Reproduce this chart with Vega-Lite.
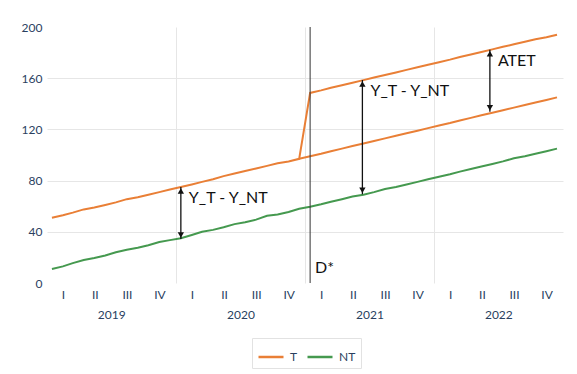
{
  "$schema": "https://vega.github.io/schema/vega-lite/v6.json",
  "width": 516,
  "height": 256,
  "autosize": {"type": "none"},
  "padding": {"left": 47, "top": 27, "right": 14, "bottom": 91},
  "background": "white",
  "config": {"view": {"stroke": null}, "font": "Lato"},
  "datasets": {
    "lines": [
      {"date": "2019-01-15", "value": 51, "series": "T", "group": "T"},
      {"date": "2019-02-15", "value": 53, "series": "T", "group": "T"},
      {"date": "2019-03-15", "value": 55, "series": "T", "group": "T"},
      {"date": "2019-04-15", "value": 57.5, "series": "T", "group": "T"},
      {"date": "2019-05-15", "value": 59, "series": "T", "group": "T"},
      {"date": "2019-06-15", "value": 61, "series": "T", "group": "T"},
      {"date": "2019-07-15", "value": 63, "series": "T", "group": "T"},
      {"date": "2019-08-15", "value": 65.5, "series": "T", "group": "T"},
      {"date": "2019-09-15", "value": 67, "series": "T", "group": "T"},
      {"date": "2019-10-15", "value": 69, "series": "T", "group": "T"},
      {"date": "2019-11-15", "value": 71, "series": "T", "group": "T"},
      {"date": "2019-12-15", "value": 73, "series": "T", "group": "T"},
      {"date": "2020-01-15", "value": 75, "series": "T", "group": "T"},
      {"date": "2020-02-15", "value": 77, "series": "T", "group": "T"},
      {"date": "2020-03-15", "value": 79, "series": "T", "group": "T"},
      {"date": "2020-04-15", "value": 81, "series": "T", "group": "T"},
      {"date": "2020-05-15", "value": 83.5, "series": "T", "group": "T"},
      {"date": "2020-06-15", "value": 85.5, "series": "T", "group": "T"},
      {"date": "2020-07-15", "value": 87.5, "series": "T", "group": "T"},
      {"date": "2020-08-15", "value": 89.5, "series": "T", "group": "T"},
      {"date": "2020-09-15", "value": 91.5, "series": "T", "group": "T"},
      {"date": "2020-10-15", "value": 93.5, "series": "T", "group": "T"},
      {"date": "2020-11-15", "value": 95, "series": "T", "group": "T"},
      {"date": "2020-12-15", "value": 97, "series": "T", "group": "T"},
      {"date": "2021-01-15", "value": 148.5, "series": "T", "group": "T"},
      {"date": "2021-02-15", "value": 150.5, "series": "T", "group": "T"},
      {"date": "2021-03-15", "value": 152.5, "series": "T", "group": "T"},
      {"date": "2021-04-15", "value": 154.5, "series": "T", "group": "T"},
      {"date": "2021-05-15", "value": 156.5, "series": "T", "group": "T"},
      {"date": "2021-06-15", "value": 158.5, "series": "T", "group": "T"},
      {"date": "2021-07-15", "value": 160.5, "series": "T", "group": "T"},
      {"date": "2021-08-15", "value": 162.5, "series": "T", "group": "T"},
      {"date": "2021-09-15", "value": 164.5, "series": "T", "group": "T"},
      {"date": "2021-10-15", "value": 166.5, "series": "T", "group": "T"},
      {"date": "2021-11-15", "value": 168.5, "series": "T", "group": "T"},
      {"date": "2021-12-15", "value": 170.5, "series": "T", "group": "T"},
      {"date": "2022-01-15", "value": 172.5, "series": "T", "group": "T"},
      {"date": "2022-02-15", "value": 174.5, "series": "T", "group": "T"},
      {"date": "2022-03-15", "value": 176.5, "series": "T", "group": "T"},
      {"date": "2022-04-15", "value": 178.5, "series": "T", "group": "T"},
      {"date": "2022-05-15", "value": 180.5, "series": "T", "group": "T"},
      {"date": "2022-06-15", "value": 182.5, "series": "T", "group": "T"},
      {"date": "2022-07-15", "value": 184.5, "series": "T", "group": "T"},
      {"date": "2022-08-15", "value": 186.5, "series": "T", "group": "T"},
      {"date": "2022-09-15", "value": 188.5, "series": "T", "group": "T"},
      {"date": "2022-10-15", "value": 190.5, "series": "T", "group": "T"},
      {"date": "2022-11-15", "value": 192, "series": "T", "group": "T"},
      {"date": "2022-12-15", "value": 194, "series": "T", "group": "T"},
      {"date": "2020-12-15", "value": 97, "series": "T", "group": "T_cf"},
      {"date": "2021-01-15", "value": 99, "series": "T", "group": "T_cf"},
      {"date": "2021-02-15", "value": 101, "series": "T", "group": "T_cf"},
      {"date": "2021-03-15", "value": 103, "series": "T", "group": "T_cf"},
      {"date": "2021-04-15", "value": 105, "series": "T", "group": "T_cf"},
      {"date": "2021-05-15", "value": 107, "series": "T", "group": "T_cf"},
      {"date": "2021-06-15", "value": 109, "series": "T", "group": "T_cf"},
      {"date": "2021-07-15", "value": 111, "series": "T", "group": "T_cf"},
      {"date": "2021-08-15", "value": 113, "series": "T", "group": "T_cf"},
      {"date": "2021-09-15", "value": 115, "series": "T", "group": "T_cf"},
      {"date": "2021-10-15", "value": 117, "series": "T", "group": "T_cf"},
      {"date": "2021-11-15", "value": 119, "series": "T", "group": "T_cf"},
      {"date": "2021-12-15", "value": 121, "series": "T", "group": "T_cf"},
      {"date": "2022-01-15", "value": 123, "series": "T", "group": "T_cf"},
      {"date": "2022-02-15", "value": 125, "series": "T", "group": "T_cf"},
      {"date": "2022-03-15", "value": 127, "series": "T", "group": "T_cf"},
      {"date": "2022-04-15", "value": 129, "series": "T", "group": "T_cf"},
      {"date": "2022-05-15", "value": 131, "series": "T", "group": "T_cf"},
      {"date": "2022-06-15", "value": 133, "series": "T", "group": "T_cf"},
      {"date": "2022-07-15", "value": 135, "series": "T", "group": "T_cf"},
      {"date": "2022-08-15", "value": 137, "series": "T", "group": "T_cf"},
      {"date": "2022-09-15", "value": 139, "series": "T", "group": "T_cf"},
      {"date": "2022-10-15", "value": 141, "series": "T", "group": "T_cf"},
      {"date": "2022-11-15", "value": 143, "series": "T", "group": "T_cf"},
      {"date": "2022-12-15", "value": 145, "series": "T", "group": "T_cf"},
      {"date": "2019-01-15", "value": 11, "series": "NT", "group": "NT"},
      {"date": "2019-02-15", "value": 13, "series": "NT", "group": "NT"},
      {"date": "2019-03-15", "value": 15.5, "series": "NT", "group": "NT"},
      {"date": "2019-04-15", "value": 18, "series": "NT", "group": "NT"},
      {"date": "2019-05-15", "value": 19.5, "series": "NT", "group": "NT"},
      {"date": "2019-06-15", "value": 21.5, "series": "NT", "group": "NT"},
      {"date": "2019-07-15", "value": 24, "series": "NT", "group": "NT"},
      {"date": "2019-08-15", "value": 26, "series": "NT", "group": "NT"},
      {"date": "2019-09-15", "value": 27.5, "series": "NT", "group": "NT"},
      {"date": "2019-10-15", "value": 29.5, "series": "NT", "group": "NT"},
      {"date": "2019-11-15", "value": 32, "series": "NT", "group": "NT"},
      {"date": "2019-12-15", "value": 33.5, "series": "NT", "group": "NT"},
      {"date": "2020-01-15", "value": 35, "series": "NT", "group": "NT"},
      {"date": "2020-02-15", "value": 37.5, "series": "NT", "group": "NT"},
      {"date": "2020-03-15", "value": 40, "series": "NT", "group": "NT"},
      {"date": "2020-04-15", "value": 41.5, "series": "NT", "group": "NT"},
      {"date": "2020-05-15", "value": 43.5, "series": "NT", "group": "NT"},
      {"date": "2020-06-15", "value": 46, "series": "NT", "group": "NT"},
      {"date": "2020-07-15", "value": 47.5, "series": "NT", "group": "NT"},
      {"date": "2020-08-15", "value": 49.5, "series": "NT", "group": "NT"},
      {"date": "2020-09-15", "value": 52.5, "series": "NT", "group": "NT"},
      {"date": "2020-10-15", "value": 53.5, "series": "NT", "group": "NT"},
      {"date": "2020-11-15", "value": 55.5, "series": "NT", "group": "NT"},
      {"date": "2020-12-15", "value": 58, "series": "NT", "group": "NT"},
      {"date": "2021-01-15", "value": 59.5, "series": "NT", "group": "NT"},
      {"date": "2021-02-15", "value": 61.5, "series": "NT", "group": "NT"},
      {"date": "2021-03-15", "value": 63.5, "series": "NT", "group": "NT"},
      {"date": "2021-04-15", "value": 65.5, "series": "NT", "group": "NT"},
      {"date": "2021-05-15", "value": 67.5, "series": "NT", "group": "NT"},
      {"date": "2021-06-15", "value": 69, "series": "NT", "group": "NT"},
      {"date": "2021-07-15", "value": 71, "series": "NT", "group": "NT"},
      {"date": "2021-08-15", "value": 73.5, "series": "NT", "group": "NT"},
      {"date": "2021-09-15", "value": 75, "series": "NT", "group": "NT"},
      {"date": "2021-10-15", "value": 77, "series": "NT", "group": "NT"},
      {"date": "2021-11-15", "value": 79, "series": "NT", "group": "NT"},
      {"date": "2021-12-15", "value": 81, "series": "NT", "group": "NT"},
      {"date": "2022-01-15", "value": 83, "series": "NT", "group": "NT"},
      {"date": "2022-02-15", "value": 85, "series": "NT", "group": "NT"},
      {"date": "2022-03-15", "value": 87, "series": "NT", "group": "NT"},
      {"date": "2022-04-15", "value": 89, "series": "NT", "group": "NT"},
      {"date": "2022-05-15", "value": 91, "series": "NT", "group": "NT"},
      {"date": "2022-06-15", "value": 93, "series": "NT", "group": "NT"},
      {"date": "2022-07-15", "value": 95, "series": "NT", "group": "NT"},
      {"date": "2022-08-15", "value": 97.5, "series": "NT", "group": "NT"},
      {"date": "2022-09-15", "value": 99, "series": "NT", "group": "NT"},
      {"date": "2022-10-15", "value": 101, "series": "NT", "group": "NT"},
      {"date": "2022-11-15", "value": 103, "series": "NT", "group": "NT"},
      {"date": "2022-12-15", "value": 105, "series": "NT", "group": "NT"}
    ],
    "arrows": [
      {"date": "2020-01-15", "lo": 34.3, "hi": 75, "label": "Y_T - Y_NT"},
      {"date": "2021-06-12", "lo": 69.3, "hi": 158.6, "label": "Y_T - Y_NT"},
      {"date": "2022-06-08", "lo": 133.8, "hi": 182.3, "label": "ATET"}
    ],
    "marker": [
      {"date": "2021-01-15", "label": "D*", "ly": 12}
    ]
  },
  "layer": [
    {
      "data": {"name": "lines"},
      "mark": {"type": "line", "strokeWidth": 2},
      "encoding": {
        "x": {
          "field": "date",
          "type": "temporal",
          "scale": {
            "type": "utc",
            "domain": [
              {"year": 2019, "month": 1, "date": 1, "utc": true},
              {"year": 2023, "month": 1, "date": 1, "utc": true}
            ]
          },
          "axis": {
            "orient": "bottom",
            "title": null,
            "values": [
              {"year": 2019, "month": 1, "date": 1, "utc": true},
              {"year": 2019, "month": 4, "date": 1, "utc": true},
              {"year": 2019, "month": 7, "date": 1, "utc": true},
              {"year": 2019, "month": 10, "date": 1, "utc": true},
              {"year": 2020, "month": 1, "date": 1, "utc": true},
              {"year": 2020, "month": 4, "date": 1, "utc": true},
              {"year": 2020, "month": 7, "date": 1, "utc": true},
              {"year": 2020, "month": 10, "date": 1, "utc": true},
              {"year": 2021, "month": 1, "date": 1, "utc": true},
              {"year": 2021, "month": 4, "date": 1, "utc": true},
              {"year": 2021, "month": 7, "date": 1, "utc": true},
              {"year": 2021, "month": 10, "date": 1, "utc": true},
              {"year": 2022, "month": 1, "date": 1, "utc": true},
              {"year": 2022, "month": 4, "date": 1, "utc": true},
              {"year": 2022, "month": 7, "date": 1, "utc": true},
              {"year": 2022, "month": 10, "date": 1, "utc": true}
            ],
            "labelExpr": "['I','II','III','IV'][floor(utcmonth(datum.value)/3)]",
            "labelOffset": 16,
            "labelFlush": false,
            "labelOverlap": false,
            "labelPadding": 6,
            "labelFontSize": 12,
            "labelColor": "#2a3f5f",
            "ticks": false,
            "domain": false,
            "grid": true,
            "gridColor": "#e6e6e6",
            "gridOpacity": {
              "condition": {"test": "utcmonth(datum.value) == 0 && utcyear(datum.value) > 2019", "value": 1},
              "value": 0
            }
          }
        },
        "y": {
          "field": "value",
          "type": "quantitative",
          "scale": {"domain": [0, 200], "nice": false},
          "axis": {
            "orient": "left",
            "title": null,
            "values": [0, 40, 80, 120, 160, 200],
            "domain": false,
            "ticks": false,
            "labelPadding": 5,
            "labelFontSize": 12,
            "labelColor": "#2a3f5f",
            "grid": true,
            "gridColor": "#e6e6e6",
            "gridOpacity": {
              "condition": {"test": "datum.value == 0 || datum.value == 200", "value": 0},
              "value": 1
            }
          }
        },
        "color": {
          "field": "series",
          "type": "nominal",
          "scale": {"domain": ["T", "NT"], "range": ["#E97F36", "#45994F"]},
          "legend": {
            "title": null,
            "orient": "none",
            "legendX": 205,
            "legendY": 311,
            "direction": "horizontal",
            "symbolType": "stroke",
            "symbolStrokeWidth": 2.5,
            "symbolSize": 625,
            "labelFontSize": 12,
            "labelColor": "#2a3f5f",
            "labelOffset": 5,
            "columnPadding": 4,
            "padding": 5,
            "strokeColor": "#e2e2e2",
            "fillColor": "white"
          }
        },
        "detail": {"field": "group", "type": "nominal"}
      }
    },
    {
      "data": {"name": "marker"},
      "mark": {"type": "rule", "color": "#333333", "strokeWidth": 1},
      "encoding": {
        "x": {
          "field": "date",
          "type": "temporal",
          "axis": {
            "orient": "bottom",
            "title": null,
            "offset": 20,
            "values": [
              {"year": 2019, "month": 7, "date": 2, "utc": true},
              {"year": 2020, "month": 7, "date": 2, "utc": true},
              {"year": 2021, "month": 7, "date": 2, "utc": true},
              {"year": 2022, "month": 7, "date": 2, "utc": true}
            ],
            "format": "%Y",
            "labelFlush": false,
            "labelOverlap": false,
            "labelPadding": 6,
            "labelFontSize": 12,
            "labelColor": "#2a3f5f",
            "ticks": false,
            "domain": false,
            "grid": false
          }
        }
      }
    },
    {
      "data": {"name": "marker"},
      "mark": {"type": "text", "align": "left", "baseline": "middle", "dx": 5, "fontSize": 16, "color": "#111111"},
      "encoding": {
        "x": {"field": "date", "type": "temporal", "axis": null},
        "y": {"field": "ly", "type": "quantitative", "axis": null},
        "text": {"field": "label"}
      }
    },
    {
      "data": {"name": "arrows"},
      "mark": {"type": "rule", "color": "#111111", "strokeWidth": 1.3},
      "encoding": {
        "x": {"field": "date", "type": "temporal", "axis": null},
        "y": {"field": "lo", "type": "quantitative", "axis": null},
        "y2": {"field": "hi"}
      }
    },
    {
      "data": {"name": "arrows"},
      "mark": {"type": "point", "shape": "triangle-up", "filled": true, "size": 40, "color": "#111111", "opacity": 1, "yOffset": 4},
      "encoding": {
        "x": {"field": "date", "type": "temporal", "axis": null},
        "y": {"field": "hi", "type": "quantitative", "axis": null}
      }
    },
    {
      "data": {"name": "arrows"},
      "mark": {"type": "point", "shape": "triangle-down", "filled": true, "size": 40, "color": "#111111", "opacity": 1, "yOffset": -4},
      "encoding": {
        "x": {"field": "date", "type": "temporal", "axis": null},
        "y": {"field": "lo", "type": "quantitative", "axis": null}
      }
    },
    {
      "data": {"name": "arrows"},
      "mark": {"type": "text", "align": "left", "baseline": "middle", "dx": 8, "dy": 11, "fontSize": 16, "color": "#111111"},
      "encoding": {
        "x": {"field": "date", "type": "temporal", "axis": null},
        "y": {"field": "hi", "type": "quantitative", "axis": null},
        "text": {"field": "label"}
      }
    }
  ],
  "resolve": {"axis": {"x": "independent", "y": "independent"}}
}
